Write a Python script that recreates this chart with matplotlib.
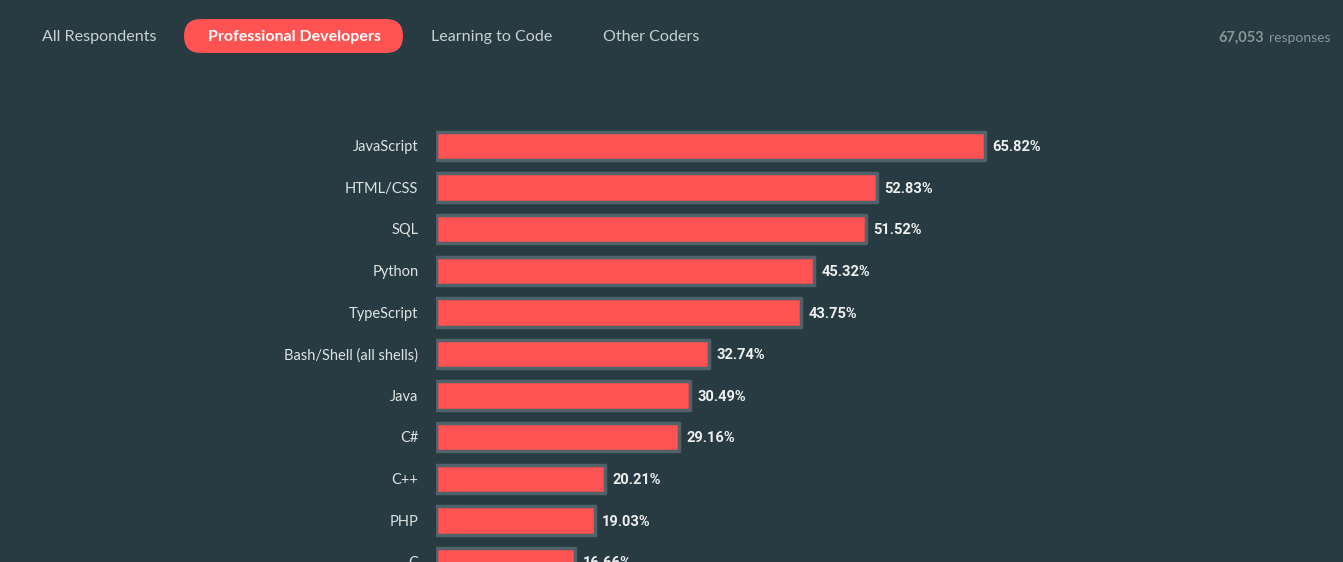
import matplotlib.pyplot as plt
from matplotlib.patches import FancyBboxPatch

languages = ['JavaScript', 'HTML/CSS', 'SQL', 'Python', 'TypeScript',
             'Bash/Shell (all shells)', 'Java', 'C#', 'C++', 'PHP', 'C']
shares = [65.82, 52.83, 51.52, 45.32, 43.75, 32.74, 30.49, 29.16, 20.21, 19.03, 16.66]
tabs = ['All Respondents', 'Professional Developers', 'Learning to Code', 'Other Coders']
responses = '67,053'

bg = '#283b42'
red = '#ff5252'
edge = '#50626a'
light = '#dfe3e4'

fig = plt.figure(figsize=(13.43, 5.62), dpi=100, facecolor=bg)
W, H = 1343, 562

# overlay axes in pixel units for the tab strip
top = fig.add_axes([0, 0, 1, 1])
top.set_xlim(0, W)
top.set_ylim(H, 0)
top.axis('off')

# chart axes: x=0 at pixel 436, ~8.34 px per percent
x0 = 436
ax = fig.add_axes([x0 / W, 0, (W - x0) / W, 1])
ax.set_facecolor('none')
ax.set_xlim(0, (W - x0) / 8.34)
ax.set_ylim((562 - 146) / 41.6, -146 / 41.6)
ax.axis('off')

ypos = list(range(len(languages)))
bars = ax.barh(ypos, shares, height=0.68, color=red, edgecolor=edge, linewidth=2.5)
for b in bars:
    b.set_joinstyle('round')

for y, lang, v in zip(ypos, languages, shares):
    ax.text(-2.1, y + 0.03, lang, ha='right', va='center', color=light,
            fontsize=10.5, family='Lato')
    ax.text(v + 0.9, y + 0.03, f'{v:.2f}%', ha='left', va='center', color='#eef0f0',
            fontsize=10.5, fontweight='bold', family='Roboto')

# tabs along the top
tab_x = [42, 208, 431, 603]
pill = FancyBboxPatch((184, 19), 219, 34, boxstyle='round,pad=0,rounding_size=17',
                      facecolor=red, edgecolor='none')
top.add_patch(pill)
for i, (t, x) in enumerate(zip(tabs, tab_x)):
    if i == 1:
        top.text(x, 37, t, ha='left', va='center', color='white',
                 fontsize=11.5, fontweight='bold', family='Lato')
    else:
        top.text(x, 37, t, ha='left', va='center', color='#c9d0d2',
                 fontsize=11.6, family='Lato')

top.text(1331, 38, 'responses', ha='right', va='center',
         color='#8a9699', fontsize=10, family='Lato')
top.text(1264, 38, responses, ha='right', va='center',
         color='#8a9699', fontsize=10.5, fontweight='bold', family='Lato')

fig.savefig('out.png', dpi=100, facecolor=bg)
